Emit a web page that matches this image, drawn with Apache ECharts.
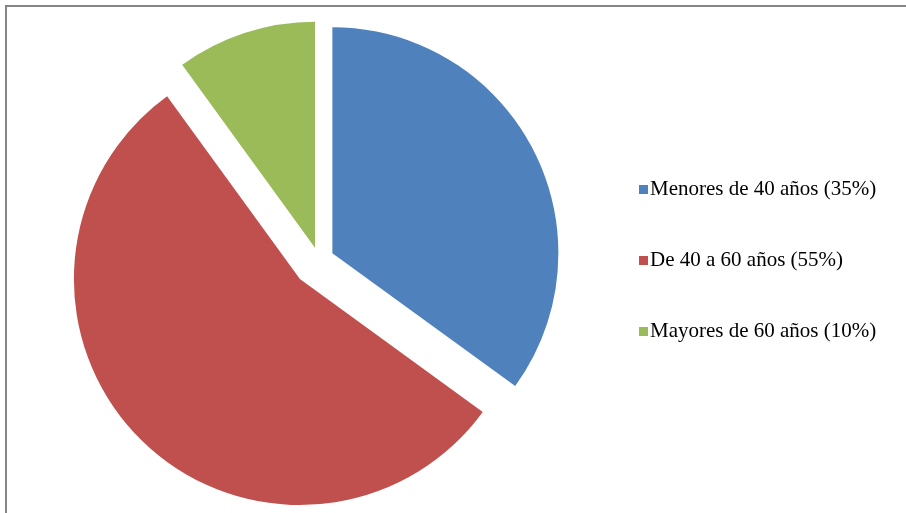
<!DOCTYPE html>
<html>
<head>
<meta charset="utf-8">
<script src="https://cdn.jsdelivr.net/npm/echarts@6/dist/echarts.min.js"></script>
<style>
  html, body { margin: 0; padding: 0; background: #fff; }
  #chart { width: 906px; height: 513px; }
</style>
</head>
<body>
<div id="chart"></div>
<script>
// datos del gráfico
var categories = ['Menores de 40 años', 'De 40 a 60 años', 'Mayores de 60 años'];
var percents = [35, 55, 10];
var colors = ['#4F81BD', '#C0504D', '#9BBB59'];
var explode = [15, 27, 13];

var chart = echarts.init(document.getElementById('chart'));

// one series per slice so every slice can be pulled out by its own amount
function sliceSeries(k) {
  return {
    type: 'pie',
    name: categories[k],
    center: [319, 260],
    radius: 226,
    startAngle: 90,
    clockwise: true,
    selectedMode: 'multiple',
    selectedOffset: explode[k],
    silent: true,
    animation: false,
    label: { show: false },
    labelLine: { show: false },
    emphasis: { disabled: true },
    data: categories.map(function (c, i) {
      return {
        name: c,
        value: percents[i],
        selected: i === k,
        itemStyle: { color: i === k ? colors[i] : 'rgba(0,0,0,0)', borderWidth: 0 }
      };
    })
  };
}

var option = {
  animation: false,
  graphic: [{
    type: 'rect',
    shape: { x: 6, y: 6, width: 1000, height: 1000 },
    style: { fill: 'none', stroke: '#858585', lineWidth: 2 }
  }],
  legend: {
    orient: 'vertical',
    left: 634,
    top: 174,
    icon: 'rect',
    itemWidth: 9,
    itemHeight: 9,
    itemGap: 50,
    selectedMode: false,
    data: categories.map(function (c, i) {
      return { name: c, itemStyle: { color: colors[i] } };
    }),
    formatter: function (name) {
      return name + ' (' + percents[categories.indexOf(name)] + '%)';
    },
    textStyle: { fontFamily: 'Liberation Serif', fontSize: 21, lineHeight: 21, color: '#000', padding: [0, 0, 0, -3] }
  },
  series: [sliceSeries(0), sliceSeries(1), sliceSeries(2)]
};

chart.setOption(option);
</script>
</body>
</html>
